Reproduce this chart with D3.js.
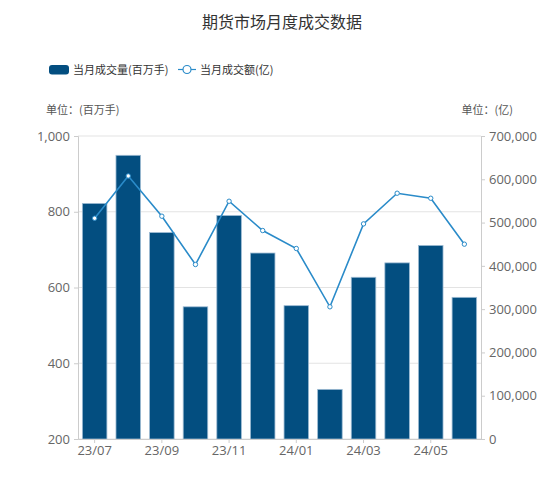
<!DOCTYPE html>
<html>
<head>
<meta charset="utf-8">
<script src="https://cdn.jsdelivr.net/npm/d3@7"></script>
<style>
  body { margin: 0; background: #fff; }
  text { font-family: "Noto Sans CJK SC", "Noto Sans", sans-serif; }
</style>
</head>
<body>
<div id="chart"></div>
<script>
// 数据
const months = ["23/07", "23/08", "23/09", "23/10", "23/11", "23/12",
                "24/01", "24/02", "24/03", "24/04", "24/05", "24/06"];
const volume = [822, 949, 745, 549, 790, 691, 552, 331, 627, 665, 711, 574];   // 百万手
const turnover = [510000, 607700, 514700, 403100, 549300, 481600,
                  440100, 305400, 497000, 567800, 556200, 450100];          // 亿
const leftTicks = [200, 400, 600, 800, 1000];
const rightTicks = [0, 100000, 200000, 300000, 400000, 500000, 600000, 700000];
const xLabels = ["23/07", "23/09", "23/11", "24/01", "24/03", "24/05"];

const W = 550, H = 497;
const margin = { top: 136, right: 69, bottom: 58, left: 78 };
const width = W - margin.left - margin.right,
      height = H - margin.top - margin.bottom;

const svg = d3.select("#chart").append("svg")
  .attr("width", W).attr("height", H);

const g = svg.append("g")
  .attr("transform", `translate(${margin.left},${margin.top})`);

// 比例尺
const x = d3.scaleBand().domain(months).range([0, width]).paddingInner(0.27).paddingOuter(0.13);
const yL = d3.scaleLinear().domain([200, 1000]).range([height, 0]);
const yR = d3.scaleLinear().domain([0, 700000]).range([height, 0]);

// 网格线
g.append("g").selectAll("line")
  .data(leftTicks)
  .join("line")
  .attr("x1", 0).attr("x2", width)
  .attr("y1", d => yL(d)).attr("y2", d => yL(d))
  .attr("stroke", "#e3e3e3");

// 柱子
g.append("g").selectAll("rect")
  .data(volume)
  .join("rect")
  .attr("x", (d, i) => x(months[i]))
  .attr("y", d => yL(d))
  .attr("width", x.bandwidth())
  .attr("height", d => height - yL(d))
  .attr("fill", "#034e80")
  .attr("stroke", "#9dbbd3")
  .attr("stroke-width", 0.8);

// 折线
const line = d3.line()
  .x((d, i) => x(months[i]) + x.bandwidth() / 2)
  .y(d => yR(d));

g.append("path")
  .datum(turnover)
  .attr("fill", "none")
  .attr("stroke", "#2a8bc9")
  .attr("stroke-width", 1.6)
  .attr("d", line);

g.append("g").selectAll("circle")
  .data(turnover)
  .join("circle")
  .attr("cx", (d, i) => x(months[i]) + x.bandwidth() / 2)
  .attr("cy", d => yR(d))
  .attr("r", 2.2)
  .attr("fill", "#fff")
  .attr("stroke", "#2a8bc9")
  .attr("stroke-width", 1);

// 坐标轴
function styleAxis(sel) {
  sel.select(".domain").attr("stroke", "#cccccc");
  sel.selectAll(".tick line").attr("stroke", "#cccccc");
  sel.selectAll(".tick text")
    .attr("fill", "#666")
    .style("font-family", "'Open Sans', 'Noto Sans', sans-serif")
    .style("font-size", "13px");
}

g.append("g")
  .call(d3.axisLeft(yL).tickValues(leftTicks).tickSize(4).tickPadding(4)
    .tickFormat(d3.format(",")))
  .call(styleAxis);

g.append("g")
  .attr("transform", `translate(${width},0)`)
  .call(d3.axisRight(yR).tickValues(rightTicks).tickSize(4).tickPadding(4)
    .tickFormat(d3.format(",")))
  .call(styleAxis);

g.append("g")
  .attr("transform", `translate(0,${height})`)
  .call(d3.axisBottom(x).tickValues(xLabels).tickSize(4).tickPadding(3).tickSizeOuter(0))
  .call(styleAxis);

// 标题
svg.append("text")
  .attr("x", 282).attr("y", 28)
  .attr("text-anchor", "middle")
  .attr("fill", "#333")
  .style("font-size", "16px")
  .text("期货市场月度成交数据");

// 图例
const legend = svg.append("g").style("font-size", "11px");
legend.append("rect")
  .attr("x", 49).attr("y", 65).attr("width", 20).attr("height", 9.5).attr("rx", 3)
  .attr("fill", "#034e80");
legend.append("text")
  .attr("x", 73).attr("y", 73.5).attr("fill", "#333")
  .text("当月成交量(百万手)");
legend.append("line")
  .attr("x1", 178).attr("x2", 196).attr("y1", 69.5).attr("y2", 69.5)
  .attr("stroke", "#2a8bc9").attr("stroke-width", 1.2);
legend.append("circle")
  .attr("cx", 187).attr("cy", 69.5).attr("r", 4)
  .attr("fill", "#fff").attr("stroke", "#2a8bc9").attr("stroke-width", 1.2);
legend.append("text")
  .attr("x", 200).attr("y", 73.5).attr("fill", "#333")
  .text("当月成交额(亿)");

// 单位
svg.append("text")
  .attr("x", 46).attr("y", 114)
  .attr("fill", "#555").style("font-size", "11px")
  .text("单位：(百万手)");
svg.append("text")
  .attr("x", 513).attr("y", 114)
  .attr("text-anchor", "end")
  .attr("fill", "#555").style("font-size", "11px")
  .text("单位：(亿)");
</script>
</body>
</html>
